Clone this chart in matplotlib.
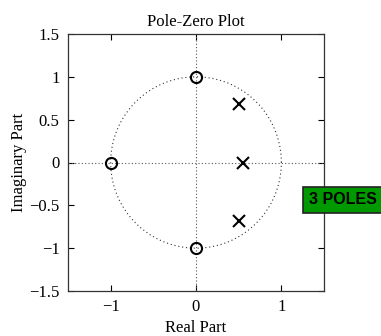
import numpy as np
import matplotlib
matplotlib.use("Agg")
import matplotlib.pyplot as plt

# Zeros and poles of the system
zeros_re = [0.0, -1.0, 0.0]
zeros_im = [1.0, 0.0, -1.0]
poles_re = [0.5, 0.55, 0.5]
poles_im = [0.68, 0.0, -0.68]

xticks = [-1, 0, 1]
yticks = [-1.5, -1, -0.5, 0, 0.5, 1, 1.5]

plt.rcParams['font.family'] = ['Liberation Serif', 'DejaVu Serif']
plt.rcParams['axes.unicode_minus'] = True

fig = plt.figure(figsize=(3.81, 3.36), dpi=100)
ax = fig.add_axes([68 / 381, 1 - 291 / 336, (324 - 68) / 381, (291 - 34) / 336])

# unit circle and axis guides
t = np.linspace(0, 2 * np.pi, 400)
ax.plot(np.cos(t), np.sin(t), ls=(0, (1, 2.5)), color='#333333', lw=0.8)
ax.axhline(0, ls=(0, (1, 2)), color='#555555', lw=0.8)
ax.axvline(0, ls=(0, (1, 2)), color='#555555', lw=0.8)

ax.plot(zeros_re, zeros_im, 'o', ms=8, mfc='none', mec='black', mew=1.5)
ax.plot(poles_re, poles_im, 'x', ms=8, color='black', mew=1.5)

ax.set_xlim(-1.5, 1.5)
ax.set_ylim(-1.5, 1.5)
ax.set_xticks(xticks)
ax.set_yticks(yticks)
ax.set_yticklabels(['\u22121.5', '\u22121', '\u22120.5', '0', '0.5', '1', '1.5'])
ax.set_xticklabels(['\u22121', '0', '1'])
ax.tick_params(direction='in', top=True, right=True, labelsize=12, length=4, width=0.8, pad=6)
for s in ax.spines.values():
    s.set_linewidth(0.9)
    s.set_color('#333333')

ax.set_title('Pole-Zero Plot', fontsize=12, pad=6)
ax.set_xlabel('Real Part', fontsize=12, labelpad=3)
ax.set_ylabel('Imaginary Part', fontsize=12, labelpad=2)

fig.text(343 / 381, 1 - 200 / 336, '3 POLES', ha='center', va='center',
         fontsize=11.5, fontweight='bold', family=['Liberation Sans', 'DejaVu Sans'],
         bbox=dict(boxstyle='square,pad=0.35', fc='#009900', ec='#222222', lw=1.2))

fig.savefig('out.png', dpi=100)
